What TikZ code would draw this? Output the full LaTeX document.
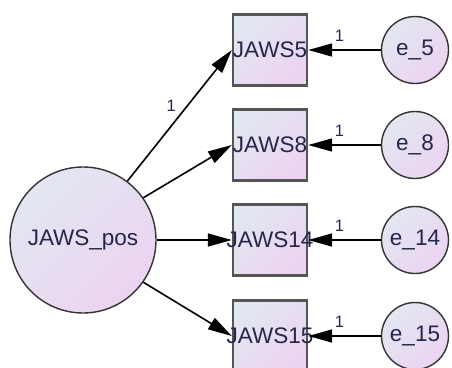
\documentclass[tikz,border=0pt]{standalone}
\usepackage{fontspec}
\setmainfont{Liberation Sans}
\usetikzlibrary{arrows.meta}
\definecolor{semtop}{RGB}{226,231,241}
\definecolor{sembot}{RGB}{236,211,241}
\definecolor{semtext}{RGB}{36,38,76}
\definecolor{semline}{RGB}{85,85,85}
\newcommand{\ovl}[1]{\makebox[0pt]{#1}}

\begin{document}
\begin{tikzpicture}[x=1pt, y=-1pt,
  >={Triangle[length=24pt,width=13pt]}, line width=1.6pt,
  font=\fontsize{22.5}{25}\selectfont, text=semtext,
  sem/.style={top color=semtop, bottom color=sembot, shading angle=45, inner sep=0pt},
  lat/.style={sem, circle, draw=black!80, line width=1.4pt, minimum size=146pt},
  obs/.style={sem, rectangle, draw=semline, line width=2.4pt, minimum width=74pt, minimum height=71pt},
  err/.style={sem, circle, draw=black!80, line width=1.4pt, minimum size=67pt},
  w/.style={font=\fontsize{16.5}{18}\selectfont, inner sep=1pt}]
\useasboundingbox (0,0) rectangle (452,367);
\node[lat] (jpos) at (83,240) {JAWS\_pos};
% indicators and their errors
\foreach \n/\y in {5/50,8/145,14/240,15/336}{
  \node[obs] (j\n) at (270,\y) {\ovl{JAWS\n}};
  \node[err] (e\n) at (415,\y) {\ovl{e\_\n}};
  \draw[->] (e\n) -- node[w,pos=.57,above=7pt]{1} (j\n);
}
% loadings
\draw[->] (jpos.53) -- node[w,pos=.5,above left=2pt]{1} (j5.west);
\draw[->] (jpos.35) -- (j8.west);
\draw[->] (jpos.east) -- (j14.west);
\draw[->] (jpos.-35) -- (j15.west);
\end{tikzpicture}
\end{document}
